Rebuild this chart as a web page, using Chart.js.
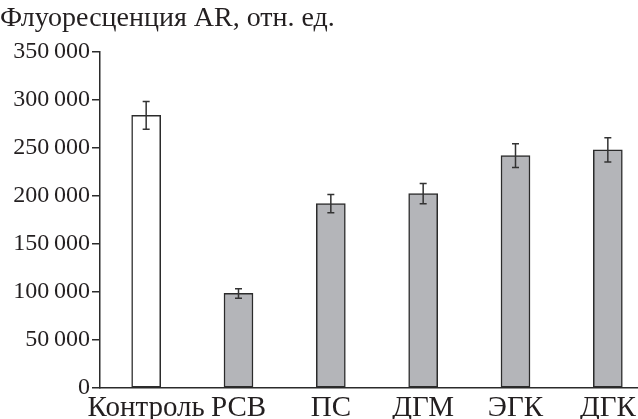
<!DOCTYPE html>
<html>
<head>
<meta charset="utf-8">
<script src="https://cdn.jsdelivr.net/npm/chart.js@4"></script>
<style>
	html, body { margin: 0; background: #fff; overflow: hidden; }
	/* a bit wider than the window: the x axis runs off the right edge, as in the original */
	#wrap { width: 654px; height: 419px; position: relative; }
</style>
</head>
<body>
<div id="wrap"><canvas id="chart"></canvas></div>
<script>
const categories = ['Контроль', 'РСВ', 'ПС', 'ДГМ', 'ЭГК', 'ДГК'];
const values = [284000, 98500, 192000, 202500, 242000, 248000];
const errors = [14500, 5000, 9500, 10500, 12300, 12600];
const yTicks = [0, 50000, 100000, 150000, 200000, 250000, 300000, 350000];
const titleText = 'Флуоресценция AR, отн. ед.';

const ink = '#231f20';
const serif = "'Liberation Serif', 'DejaVu Serif', serif";

const errorBars = {
	id: 'errorBars',
	afterDatasetsDraw(chart) {
		const ctx = chart.ctx;
		const yScale = chart.scales.y;
		const meta = chart.getDatasetMeta(0);
		ctx.save();
		ctx.strokeStyle = '#333';
		ctx.lineWidth = 1.5;
		meta.data.forEach((bar, i) => {
			const top = yScale.getPixelForValue(values[i] + errors[i]);
			const bottom = yScale.getPixelForValue(values[i] - errors[i]);
			ctx.beginPath();
			ctx.moveTo(bar.x, top);
			ctx.lineTo(bar.x, bottom);
			ctx.moveTo(bar.x - 3.5, top);
			ctx.lineTo(bar.x + 3.5, top);
			ctx.moveTo(bar.x - 3.5, bottom);
			ctx.lineTo(bar.x + 3.5, bottom);
			ctx.stroke();
		});
		ctx.restore();
	}
};

const formatTick = (v) => {
	if (v === 0) return '0';
	const s = String(v);
	return s.slice(0, s.length - 3) + '\u2009' + s.slice(-3);
};

new Chart(document.getElementById('chart'), {
	type: 'bar',
	data: {
		labels: categories,
		datasets: [
			{
				data: values,
				backgroundColor: categories.map((c, i) => (i === 0 ? '#ffffff' : '#b4b5b9')),
				borderColor: '#2b2b2b',
				borderWidth: 1.5,
				borderSkipped: false,
				barThickness: 29,
			},
		],
	},
	options: {
		responsive: true,
		maintainAspectRatio: false,
		animation: false,
		layout: { padding: 0 },
		plugins: {
			legend: { display: false },
			tooltip: { enabled: false },
			title: {
				display: true,
				text: titleText,
				align: 'start',
				color: ink,
				font: { family: serif, size: 28, weight: 'normal', lineHeight: 1.2 },
				padding: { top: 2, bottom: 16.4 },
			},
		},
		scales: {
			x: {
				offset: true,
				grid: { display: false, drawTicks: false },
				border: { display: true, color: '#2b2b2b', width: 1.5 },
				ticks: {
					color: ink,
					font: { family: serif, size: 29 },
					padding: 3,
					maxRotation: 0,
					autoSkip: false,
				},
				afterFit: (scale) => { scale.height = 31; },
			},
			y: {
				min: 0,
				max: 350000,
				afterBuildTicks: (scale) => { scale.ticks = yTicks.map((v) => ({ value: v })); },
				grid: { drawOnChartArea: false, drawTicks: true, tickLength: 8, color: '#2b2b2b', lineWidth: 1.5 },
				border: { display: true, color: '#2b2b2b', width: 1.5 },
				ticks: {
					color: ink,
					font: { family: serif, size: 24 },
					padding: 2,
					callback: formatTick,
				},
				afterFit: (scale) => { scale.width = 100; },
			},
		},
	},
	plugins: [errorBars],
});
</script>
</body>
</html>
